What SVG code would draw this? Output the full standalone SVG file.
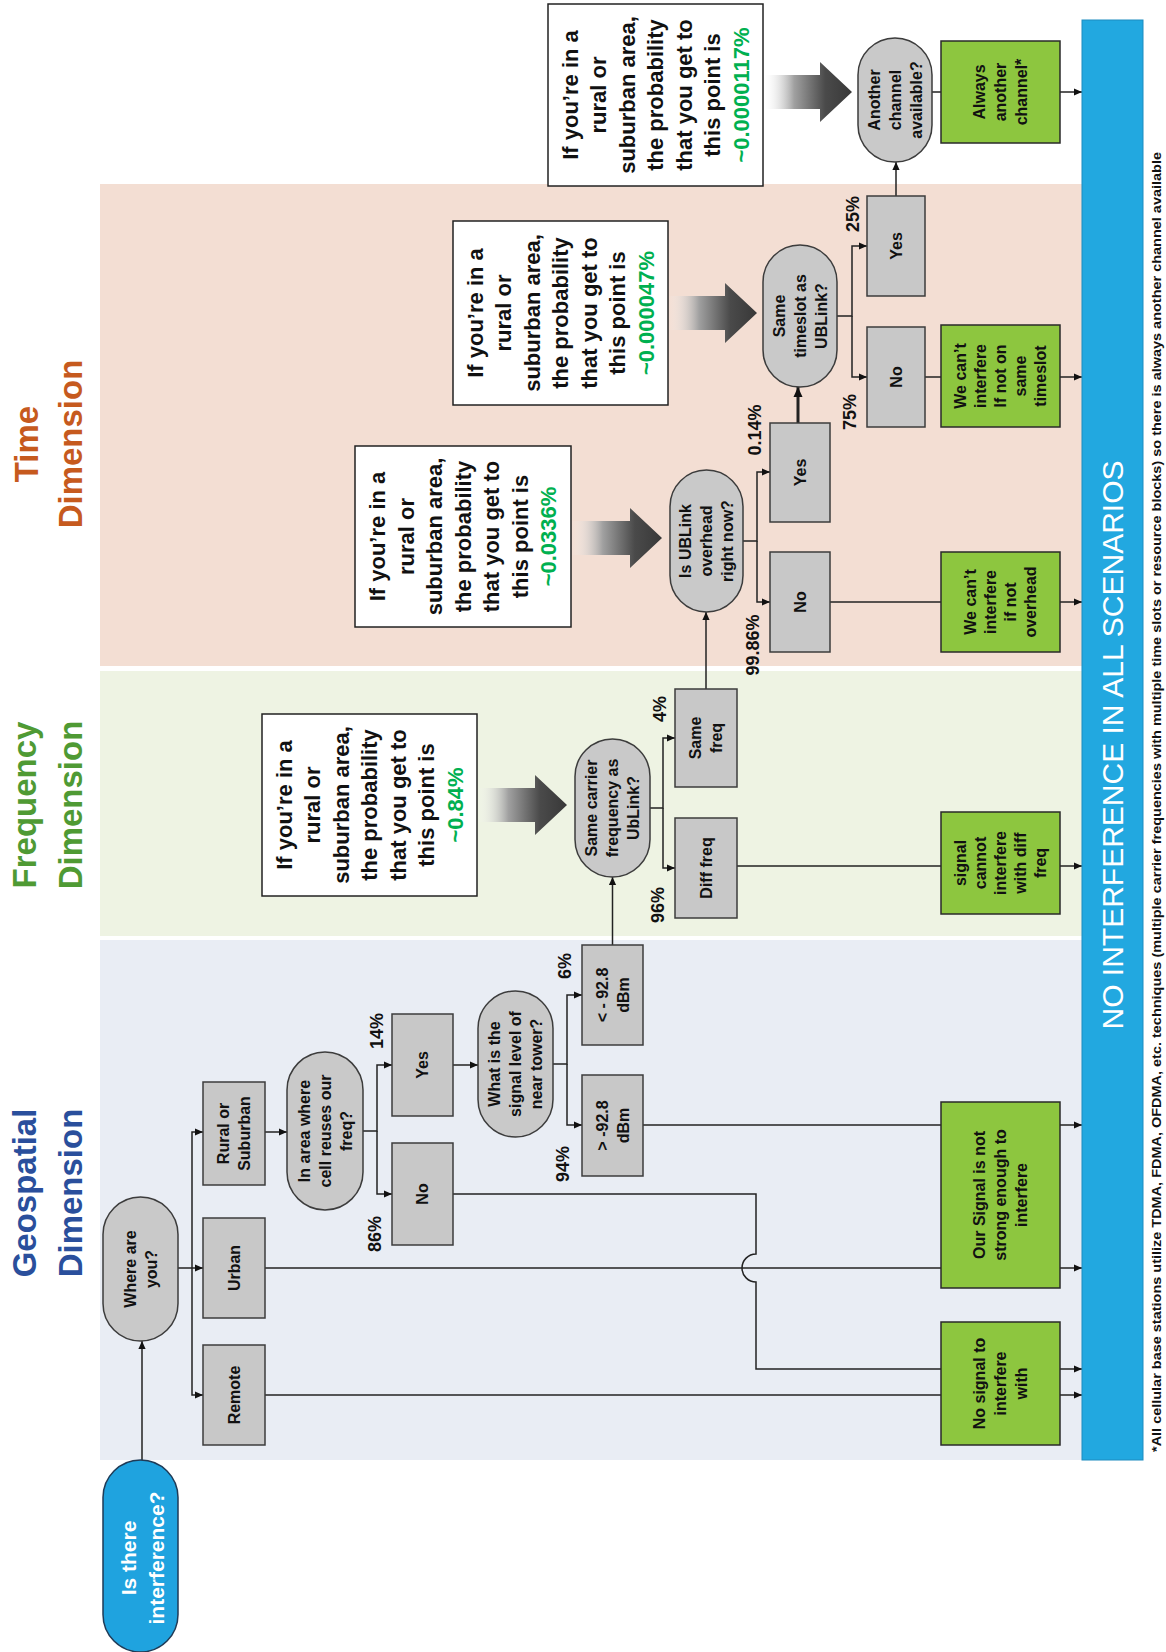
<svg xmlns="http://www.w3.org/2000/svg" width="1166" height="1652" viewBox="0 0 1166 1652">
<defs>
<style>
.box{fill:#c8c8c8;stroke:#3c3c3c;stroke-width:1.5}
.stad{fill:#c9c9c9;stroke:#3c3c3c;stroke-width:1.5}
.grn{fill:#8dc63f;stroke:#2a2a2a;stroke-width:1.5}
.tb{fill:#ffffff;stroke:#222;stroke-width:1.5}
.ln{fill:none;stroke:#222;stroke-width:1.5}
.lna{fill:none;stroke:#222;stroke-width:1.5;marker-end:url(#ah)}
.nt{font-family:"Liberation Sans",Arial,sans-serif;font-weight:bold;font-size:16px;fill:#111;text-anchor:middle}
.bt{font-family:"Liberation Sans",Arial,sans-serif;font-weight:bold;font-size:22px;fill:#111;text-anchor:middle}
.pv{fill:#00b050}
.pct{font-family:"Liberation Sans",Arial,sans-serif;font-weight:bold;font-size:18px;fill:#111;text-anchor:middle}
.ttl{font-family:"Liberation Sans",Arial,sans-serif;font-weight:bold;font-size:33px;text-anchor:middle}
.big{fill:url(#bg)}
</style>
<marker id="ah" viewBox="0 0 10 10" refX="10" refY="5" markerWidth="9" markerHeight="8" markerUnits="userSpaceOnUse" orient="auto"><path d="M0,0.5 L10,5 L0,9.5 z" fill="#111"/></marker>
<marker id="ahb" viewBox="0 0 10 10" refX="10" refY="5" markerWidth="11" markerHeight="10" markerUnits="userSpaceOnUse" orient="auto"><path d="M0,0.5 L10,5 L0,9.5 z" fill="#111"/></marker>
<linearGradient id="bg" x1="0" y1="0" x2="1" y2="0">
<stop offset="0" stop-color="#ffffff" stop-opacity="0"/>
<stop offset="0.35" stop-color="#a0a0a0"/>
<stop offset="0.7" stop-color="#4a4a4a"/>
<stop offset="1" stop-color="#383838"/>
</linearGradient>
</defs>
<rect width="1166" height="1652" fill="#ffffff"/>
<g id="bands">
<rect x="100" y="184" width="982" height="482" fill="#f3ded3"/>
<rect x="100" y="671" width="982" height="265" fill="#eef3e3"/>
<rect x="100" y="940" width="982" height="520" fill="#e9edf4"/>
</g>
<g id="titles">
<text class="ttl" fill="#c65a1e" transform="translate(38,444) rotate(-90)">Time</text>
<text class="ttl" fill="#c65a1e" transform="translate(82,444) rotate(-90)">Dimension</text>
<text class="ttl" fill="#4f9a34" transform="translate(36,805) rotate(-90)">Frequency</text>
<text class="ttl" fill="#4f9a34" transform="translate(82,805) rotate(-90)">Dimension</text>
<text class="ttl" fill="#2a4f9c" transform="translate(36,1193) rotate(-90)">Geospatial</text>
<text class="ttl" fill="#2a4f9c" transform="translate(82,1193) rotate(-90)">Dimension</text>
</g>
<g id="connectors">
<path class="lna" d="M142,1460 V1341"/>
<path class="lna" d="M178,1268 H203"/>
<path class="lna" d="M192,1268 V1132 H203"/>
<path class="lna" d="M192,1268 V1395 H203"/>
<path class="lna" d="M265,1132 H287"/>
<path class="lna" d="M363,1131 H377 V1065 H392"/>
<path class="lna" d="M377,1131 V1194 H392"/>
<path class="lna" d="M453,1065 H478"/>
<path class="lna" d="M553,1064 H567 V995 H582"/>
<path class="lna" d="M567,1064 V1125 H582"/>
<path class="lna" d="M612.5,945 V877"/>
<path class="lna" d="M650,808 H663 V738 H675"/>
<path class="lna" d="M663,808 V868 H675"/>
<path class="lna" d="M706,689 V612"/>
<path class="lna" d="M743,541 H757 V472 H770"/>
<path class="lna" d="M757,541 V602 H770"/>
<path d="M798,423 V387" fill="none" stroke="#222" stroke-width="3" marker-end="url(#ahb)"/>
<path class="lna" d="M837,316 H852 V246 H867"/>
<path class="lna" d="M852,316 V377 H867"/>
<path class="lna" d="M896,196 V162"/>
<path class="ln" d="M932,92 H941"/>
<path class="lna" d="M1060,92 H1082"/>
<path class="ln" d="M925,377 H941"/>
<path class="lna" d="M1060,377 H1082"/>
<path class="ln" d="M830,602 H941"/>
<path class="lna" d="M1060,602 H1082"/>
<path class="ln" d="M737,866 H941"/>
<path class="lna" d="M1060,866 H1082"/>
<path class="ln" d="M643,1125 H941"/>
<path class="lna" d="M1060,1125 H1082"/>
<path class="ln" d="M265,1268 H941"/>
<path class="lna" d="M1060,1268 H1082"/>
<path class="ln" d="M453,1194 H756 V1254 A14,14 0 0 0 756,1282 V1369 H941"/>
<path class="lna" d="M1060,1369 H1082"/>
<path class="ln" d="M265,1395 H941"/>
<path class="lna" d="M1060,1395 H1082"/>
<path class="big" d="M477,788 H535 V775 L567,805 L535,835 V822 H477 Z"/>
<path class="big" d="M571,521 H630 V508 L662,538 L630,568 V555 H571 Z"/>
<path class="big" d="M668,296 H725 V283 L757,313 L725,343 V330 H668 Z"/>
<path class="big" d="M763,75 H820 V62 L852,92 L820,122 V109 H763 Z"/>
</g>
<g id="start">
<rect x="103" y="1460" width="75" height="192" rx="37.5" fill="#1fa3df" stroke="#1f3b57" stroke-width="1.5"/>
<text transform="translate(140.5,1558) rotate(-90)" font-family="Liberation Sans, Arial, sans-serif" font-weight="bold" font-size="21" fill="#ffffff" text-anchor="middle"><tspan x="0" y="-5">Is there</tspan><tspan x="0" y="23">interference?</tspan></text>
</g>
<g id="where">
<rect class="stad" x="103" y="1197" width="75" height="144" rx="37.5"/>
<text class="nt" transform="translate(140.5,1269) rotate(-90)"><tspan x="0" y="-4.9">Where are</tspan><tspan x="0" y="16.1">you?</tspan></text>
</g>
<g id="remote">
<rect class="box" x="203" y="1345" width="62" height="100"/>
<text class="nt" transform="translate(234,1395) rotate(-90)"><tspan x="0" y="5.6">Remote</tspan></text>
</g>
<g id="urban">
<rect class="box" x="203" y="1218" width="62" height="100"/>
<text class="nt" transform="translate(234,1268) rotate(-90)"><tspan x="0" y="5.6">Urban</tspan></text>
</g>
<g id="rural">
<rect class="box" x="203" y="1082" width="62" height="103"/>
<text class="nt" transform="translate(234,1133.5) rotate(-90)"><tspan x="0" y="-4.9">Rural or</tspan><tspan x="0" y="16.1">Suburban</tspan></text>
</g>
<g id="inarea">
<rect class="stad" x="287" y="1052" width="76" height="158" rx="38"/>
<text class="nt" transform="translate(325,1131) rotate(-90)"><tspan x="0" y="-15.4">In area where</tspan><tspan x="0" y="5.6">cell reuses our</tspan><tspan x="0" y="26.6">freq?</tspan></text>
</g>
<g id="yes14">
<rect class="box" x="392" y="1014" width="61" height="102"/>
<text class="nt" transform="translate(422.5,1065) rotate(-90)"><tspan x="0" y="5.6">Yes</tspan></text>
</g>
<g id="no86">
<rect class="box" x="392" y="1143" width="61" height="102"/>
<text class="nt" transform="translate(422.5,1194) rotate(-90)"><tspan x="0" y="5.6">No</tspan></text>
</g>
<g id="whatis">
<rect class="stad" x="478" y="991" width="75" height="146" rx="37.5"/>
<text class="nt" transform="translate(515.5,1064) rotate(-90)"><tspan x="0" y="-15.4">What is the</tspan><tspan x="0" y="5.6">signal level of</tspan><tspan x="0" y="26.6">near tower?</tspan></text>
</g>
<g id="lt928">
<rect class="box" x="582" y="945" width="61" height="100"/>
<text class="nt" transform="translate(612.5,995) rotate(-90)"><tspan x="0" y="-4.9">&lt; - 92.8</tspan><tspan x="0" y="16.1">dBm</tspan></text>
</g>
<g id="gt928">
<rect class="box" x="582" y="1075" width="61" height="101"/>
<text class="nt" transform="translate(612.5,1125.5) rotate(-90)"><tspan x="0" y="-4.9">&gt; -92.8</tspan><tspan x="0" y="16.1">dBm</tspan></text>
</g>
<g id="samecarrier">
<rect class="stad" x="575" y="739" width="75" height="138" rx="37.5"/>
<text class="nt" transform="translate(612.5,808) rotate(-90)"><tspan x="0" y="-15.4">Same carrier</tspan><tspan x="0" y="5.6">frequency as</tspan><tspan x="0" y="26.6">UbLink?</tspan></text>
</g>
<g id="samefreq">
<rect class="box" x="675" y="689" width="62" height="98"/>
<text class="nt" transform="translate(706,738) rotate(-90)"><tspan x="0" y="-4.9">Same</tspan><tspan x="0" y="16.1">freq</tspan></text>
</g>
<g id="difffreq">
<rect class="box" x="675" y="818" width="62" height="100"/>
<text class="nt" transform="translate(706,868) rotate(-90)"><tspan x="0" y="5.6">Diff freq</tspan></text>
</g>
<g id="ublink">
<rect class="stad" x="670" y="470" width="73" height="142" rx="36.5"/>
<text class="nt" transform="translate(706.5,541) rotate(-90)"><tspan x="0" y="-15.4">Is UBLink</tspan><tspan x="0" y="5.6">overhead</tspan><tspan x="0" y="26.6">right now?</tspan></text>
</g>
<g id="yes014">
<rect class="box" x="770" y="423" width="60" height="99"/>
<text class="nt" transform="translate(800,472.5) rotate(-90)"><tspan x="0" y="5.6">Yes</tspan></text>
</g>
<g id="no9986">
<rect class="box" x="770" y="552" width="60" height="100"/>
<text class="nt" transform="translate(800,602) rotate(-90)"><tspan x="0" y="5.6">No</tspan></text>
</g>
<g id="timeslot">
<rect class="stad" x="763" y="245" width="74" height="142" rx="37"/>
<text class="nt" transform="translate(800,316) rotate(-90)"><tspan x="0" y="-15.4">Same</tspan><tspan x="0" y="5.6">timeslot as</tspan><tspan x="0" y="26.6">UBLink?</tspan></text>
</g>
<g id="yes25">
<rect class="box" x="867" y="196" width="58" height="100"/>
<text class="nt" transform="translate(896,246) rotate(-90)"><tspan x="0" y="5.6">Yes</tspan></text>
</g>
<g id="no75">
<rect class="box" x="867" y="327" width="58" height="100"/>
<text class="nt" transform="translate(896,377) rotate(-90)"><tspan x="0" y="5.6">No</tspan></text>
</g>
<g id="another">
<rect class="stad" x="858" y="38" width="74" height="124" rx="37"/>
<text class="nt" transform="translate(895,100) rotate(-90)"><tspan x="0" y="-15.4">Another</tspan><tspan x="0" y="5.6">channel</tspan><tspan x="0" y="26.6">available?</tspan></text>
</g>
<g id="always">
<rect class="grn" x="941" y="41" width="119" height="102"/>
<text class="nt" transform="translate(1000.5,92) rotate(-90)"><tspan x="0" y="-15.4">Always</tspan><tspan x="0" y="5.6">another</tspan><tspan x="0" y="26.6">channel*</tspan></text>
</g>
<g id="notimeslot">
<rect class="grn" x="941" y="325" width="119" height="102"/>
<text class="nt" transform="translate(1000.5,376) rotate(-90)"><tspan x="0" y="-34.4">We can’t</tspan><tspan x="0" y="-14.4">interfere</tspan><tspan x="0" y="5.6">If not on</tspan><tspan x="0" y="25.6">same</tspan><tspan x="0" y="45.6">timeslot</tspan></text>
</g>
<g id="notoverhead">
<rect class="grn" x="941" y="552" width="119" height="100"/>
<text class="nt" transform="translate(1000.5,602) rotate(-90)"><tspan x="0" y="-24.4">We can’t</tspan><tspan x="0" y="-4.4">interfere</tspan><tspan x="0" y="15.6">if not</tspan><tspan x="0" y="35.6">overhead</tspan></text>
</g>
<g id="cannotdiff">
<rect class="grn" x="941" y="812" width="119" height="102"/>
<text class="nt" transform="translate(1000.5,863) rotate(-90)"><tspan x="0" y="-34.4">signal</tspan><tspan x="0" y="-14.4">cannot</tspan><tspan x="0" y="5.6">interfere</tspan><tspan x="0" y="25.6">with diff</tspan><tspan x="0" y="45.6">freq</tspan></text>
</g>
<g id="oursignal">
<rect class="grn" x="941" y="1102" width="119" height="186"/>
<text class="nt" transform="translate(1000.5,1195) rotate(-90)"><tspan x="0" y="-15.4">Our Signal is not</tspan><tspan x="0" y="5.6">strong enough to</tspan><tspan x="0" y="26.6">interfere</tspan></text>
</g>
<g id="nosignal">
<rect class="grn" x="941" y="1322" width="119" height="123"/>
<text class="nt" transform="translate(1000.5,1383.5) rotate(-90)"><tspan x="0" y="-15.4">No signal to</tspan><tspan x="0" y="5.6">interfere</tspan><tspan x="0" y="26.6">with</tspan></text>
</g>
<g id="prob084">
<rect class="tb" x="262" y="714" width="215" height="182"/>
<text class="bt" transform="translate(369.5,805) rotate(-90)"><tspan x="0" y="-77.8">If you’re in a</tspan><tspan x="0" y="-49.3">rural or</tspan><tspan x="0" y="-20.8">suburban area,</tspan><tspan x="0" y="7.7">the probability</tspan><tspan x="0" y="36.2">that you get to</tspan><tspan x="0" y="64.7">this point is</tspan><tspan class="pv" x="0" y="93.2">~0.84%</tspan></text>
</g>
<g id="prob0336">
<rect class="tb" x="355" y="446" width="216" height="181"/>
<text class="bt" transform="translate(463,536.5) rotate(-90)"><tspan x="0" y="-77.8">If you’re in a</tspan><tspan x="0" y="-49.3">rural or</tspan><tspan x="0" y="-20.8">suburban area,</tspan><tspan x="0" y="7.7">the probability</tspan><tspan x="0" y="36.2">that you get to</tspan><tspan x="0" y="64.7">this point is</tspan><tspan class="pv" x="0" y="93.2">~0.0336%</tspan></text>
</g>
<g id="prob000047">
<rect class="tb" x="453" y="221" width="215" height="184"/>
<text class="bt" transform="translate(560.5,313) rotate(-90)"><tspan x="0" y="-77.8">If you’re in a</tspan><tspan x="0" y="-49.3">rural or</tspan><tspan x="0" y="-20.8">suburban area,</tspan><tspan x="0" y="7.7">the probability</tspan><tspan x="0" y="36.2">that you get to</tspan><tspan x="0" y="64.7">this point is</tspan><tspan class="pv" x="0" y="93.2">~0.000047%</tspan></text>
</g>
<g id="prob0000117">
<rect class="tb" x="548" y="4" width="215" height="182"/>
<text class="bt" transform="translate(655.5,95) rotate(-90)"><tspan x="0" y="-77.8">If you’re in a</tspan><tspan x="0" y="-49.3">rural or</tspan><tspan x="0" y="-20.8">suburban area,</tspan><tspan x="0" y="7.7">the probability</tspan><tspan x="0" y="36.2">that you get to</tspan><tspan x="0" y="64.7">this point is</tspan><tspan class="pv" x="0" y="93.2">~0.0000117%</tspan></text>
</g>
<g id="labels">
<text class="pct" transform="translate(383,1031) rotate(-90)">14%</text>
<text class="pct" transform="translate(381,1234) rotate(-90)">86%</text>
<text class="pct" transform="translate(571,966) rotate(-90)">6%</text>
<text class="pct" transform="translate(569,1164) rotate(-90)">94%</text>
<text class="pct" transform="translate(666,709) rotate(-90)">4%</text>
<text class="pct" transform="translate(664,905) rotate(-90)">96%</text>
<text class="pct" transform="translate(759,645) rotate(-90)">99.86%</text>
<text class="pct" transform="translate(761,430) rotate(-90)">0.14%</text>
<text class="pct" transform="translate(856,412) rotate(-90)">75%</text>
<text class="pct" transform="translate(859,214) rotate(-90)">25%</text>
</g>
<g id="nointerference">
<rect x="1082" y="20" width="61" height="1440" fill="#22a8e0" stroke="#1c8cc0" stroke-width="1"/>
<text transform="translate(1123,745) rotate(-90)" font-family="Liberation Sans, Arial, sans-serif" font-size="30" fill="#ffffff" text-anchor="middle">NO INTERFERENCE IN ALL SCENARIOS</text>
</g>
<text transform="translate(1161,1452) rotate(-90)" font-family="Liberation Sans, Arial, sans-serif" font-weight="bold" font-size="13.5" fill="#111" textLength="1300" lengthAdjust="spacingAndGlyphs">*All cellular base stations utilize TDMA, FDMA, OFDMA, etc. techniques (multiple carrier frequencies with multiple time slots or resource blocks) so there is always another channel available</text>
</svg>
